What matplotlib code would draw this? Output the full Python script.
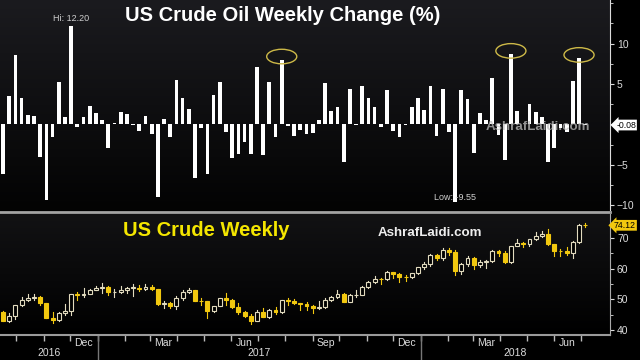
import datetime as dt
import numpy as np
import matplotlib
matplotlib.use("Agg")
import matplotlib.pyplot as plt
import matplotlib.dates as mdates
from matplotlib.patches import Ellipse, Rectangle
from matplotlib.lines import Line2D
from matplotlib.colors import LinearSegmentedColormap

# weekly WTI data, weeks ending Friday 16 Sep 2016 .. 6 Jul 2018
first_week = dt.date(2016, 9, 16)
weeks = [first_week + dt.timedelta(weeks=i) for i in range(95)]

pct_change = [-6.1, 3.5, 8.6, 3.3, 1.2, 1.0, -4.0, -9.4, -1.5, 5.3,
              0.9, 12.2, -0.3, 0.9, 2.3, 1.4, 0.5, -2.9, 0.15, 1.5,
              1.3, -0.1, -0.8, 1.1, -1.2, -9.0, 0.7, -1.6, 5.5, 3.3,
              1.9, -6.6, -0.5, -6.1, 3.6, 5.3, -1.0, -4.1, -3.7, -2.2,
              -3.7, 7.1, -3.8, 5.3, -1.6, 8.0, -0.2, -1.4, -0.7, -1.2,
              -1.1, 0.5, 5.1, 1.6, 2.1, -4.6, 4.4, -0.05, 4.8, 3.3,
              2.1, -0.3, 4.3, -0.8, -1.6, -0.05, 2.1, 3.3, 1.8, 4.8,
              -1.4, 4.4, -0.9, -9.55, 4.2, 3.1, -3.5, 1.4, 0.5, 5.7,
              -1.3, -4.4, 8.7, 1.6, 0.1, 2.5, 1.5, 0.9, -4.7, -2.9,
              -0.4, -0.9, 5.4, 8.2, -0.08]

prev_close = 45.88
closes = [43.03, 44.48, 48.24, 49.81, 50.35, 50.85, 48.70, 44.07, 43.41, 45.69,
          46.06, 51.68, 51.50, 51.90, 53.02, 53.72, 53.99, 52.37, 52.42, 53.17,
          53.83, 53.86, 53.40, 53.99, 53.33, 48.49, 48.78, 47.97, 50.60, 52.24,
          53.18, 49.62, 49.33, 46.22, 47.84, 50.33, 49.80, 47.66, 45.83, 44.74,
          43.01, 46.04, 44.23, 46.54, 45.77, 49.71, 49.58, 48.82, 48.51, 47.87,
          47.29, 47.48, 49.89, 50.66, 51.67, 49.29, 51.45, 51.47, 53.90, 55.64,
          56.74, 56.55, 58.95, 58.36, 57.36, 57.30, 58.47, 60.42, 61.44, 64.30,
          63.37, 66.14, 65.45, 59.20, 61.68, 63.55, 61.25, 62.04, 62.34, 65.88,
          64.94, 62.06, 67.39, 68.38, 68.10, 69.72, 70.70, 71.28, 67.88, 65.81,
          65.74, 65.06, 68.58, 74.15, 74.12]
highs = [46.2, 45.6, 48.3, 50.7, 51.6, 51.9, 51.1, 48.9, 45.9, 46.0,
         48.4, 51.9, 52.4, 53.6, 53.3, 54.4, 55.2, 54.2, 53.4, 54.3,
         54.1, 54.9, 54.6, 54.9, 54.6, 53.5, 49.4, 49.2, 51.0, 52.9,
         53.8, 53.2, 50.3, 49.6, 48.0, 50.5, 52.0, 50.0, 48.8, 46.2,
         45.1, 46.5, 47.3, 46.8, 47.5, 49.8, 50.4, 50.2, 48.9, 49.0,
         48.1, 49.4, 50.3, 51.0, 52.9, 52.2, 51.6, 52.9, 54.2, 55.9,
         57.7, 56.9, 59.1, 59.0, 58.5, 58.0, 58.6, 60.5, 62.2, 64.8,
         64.9, 66.7, 66.7, 66.0, 62.0, 64.2, 63.7, 62.9, 62.8, 66.2,
         66.1, 65.6, 67.5, 69.6, 68.8, 69.8, 71.9, 72.3, 72.8, 67.9,
         66.4, 67.1, 69.0, 74.5, 75.0]
lows = [42.8, 42.5, 43.5, 47.9, 49.5, 49.7, 48.3, 44.0, 42.2, 43.0,
        45.0, 44.8, 49.9, 50.7, 51.7, 52.9, 52.1, 51.5, 50.9, 52.2,
        52.2, 51.2, 52.8, 53.0, 52.9, 48.3, 47.1, 47.1, 47.0, 49.9,
        52.0, 49.5, 48.2, 43.8, 45.9, 47.8, 48.2, 47.3, 45.2, 44.2,
        42.1, 42.8, 44.2, 44.0, 45.4, 45.6, 48.3, 48.4, 46.5, 46.6,
        45.6, 46.8, 47.1, 49.5, 50.3, 49.1, 49.1, 50.7, 51.3, 53.7,
        55.2, 54.9, 56.4, 57.1, 55.8, 56.1, 57.0, 58.2, 59.9, 61.0,
        62.8, 62.7, 64.6, 58.1, 58.2, 60.8, 60.0, 60.5, 60.1, 62.1,
        64.2, 61.8, 61.9, 67.3, 67.0, 67.3, 69.2, 70.3, 67.8, 64.2,
        64.2, 64.3, 63.6, 68.4, 73.6]

hi_week, lo_week = 11, 73
circled = [45, 82, 93]
month_labels = [(2016, 12, "Dec"), (2017, 3, "Mar"), (2017, 6, "Jun"), (2017, 9, "Sep"),
                (2017, 12, "Dec"), (2018, 3, "Mar"), (2018, 6, "Jun")]

x = mdates.date2num(weeks)
opens = [prev_close] + closes[:-1]
xmin = mdates.date2num(dt.date(2016, 9, 12)) + 0.6
xmax = mdates.date2num(dt.date(2018, 8, 3))

yellow = "#f2c80f"
cream = "#e2dbbf"
txt = "#dcdcdc"

plt.rcParams["font.family"] = "Liberation Sans"
fig = plt.figure(figsize=(6.4, 3.6), dpi=100, facecolor="black")

# background gradients
W = 610 / 640
bg1 = fig.add_axes([0, 1 - 210 / 360, W, 210 / 360], zorder=0)
bg1.imshow(np.linspace(1, 0, 256).reshape(-1, 1), aspect="auto",
           cmap=LinearSegmentedColormap.from_list("g1", ["#030303", "#1b1b1f"]))
bg1.axis("off")
bg2 = fig.add_axes([0, 25 / 360, W, 121 / 360], zorder=0)
bg2.imshow(np.linspace(1, 0, 256).reshape(-1, 1), aspect="auto",
           cmap=LinearSegmentedColormap.from_list("g2", ["#000000", "#121214"]))
bg2.axis("off")

ax1 = fig.add_axes([0, 1 - 210 / 360, W, 210 / 360], zorder=1)
ax2 = fig.add_axes([0, 25 / 360, W, 121 / 360], zorder=1)
for ax in (ax1, ax2):
    ax.set_facecolor("none")
    for s in ("top", "left"):
        ax.spines[s].set_visible(False)
    ax.yaxis.tick_right()
    ax.set_xlim(xmin, xmax)

# --- top: weekly % change
ax1.bar(x, pct_change, width=4.2, color="white", zorder=3)
ax1.set_ylim(-10.6, 15.4)
ax1.spines["bottom"].set_visible(False)
ax1.spines["right"].set_color(txt)
ax1.tick_params(axis="x", bottom=False, labelbottom=False)
ax1.set_yticks([-10, -5, 5, 10])
ax1.set_yticks(np.arange(-10, 15.1, 2.5), minor=True)
ax1.tick_params(axis="y", which="both", colors=txt, labelsize=7.5, length=3, pad=2)
ax1.tick_params(axis="y", which="minor", length=2)

for i in circled:
    ax1.add_patch(Ellipse((x[i], pct_change[i] + 0.4), 34, 1.8, fill=False,
                          ec="#cdb948", lw=1, zorder=4))
ax1.text(x[hi_week], pct_change[hi_week] + 0.35, "Hi: 12.20", ha="center", va="bottom",
         color="#cfcfcf", fontsize=6.5, zorder=5)
ax1.text(x[lo_week], -9.1, "Low: -9.55", ha="center", va="center",
         color="#cfcfcf", fontsize=6.5, zorder=5)
# last-value tags on the right axis
tag_x = 636 / 610
ax1.text(tag_x, pct_change[-1], "-0.08", transform=ax1.get_yaxis_transform(),
         ha="right", va="center", fontsize=6.3, color="black", clip_on=False,
         bbox=dict(boxstyle="larrow,pad=0.1", fc="white", ec="none"))

# --- bottom: weekly candles
for d, o, h, l, c in zip(x, opens, highs, lows, closes):
    up = c >= o
    col = cream if up else yellow
    ax2.plot([d, d], [l, h], color=col, lw=0.8, zorder=2)
    ax2.add_patch(Rectangle((d - 2.2, min(o, c)), 4.4, max(abs(c - o), 0.12),
                            fc="black" if up else yellow, ec=col, lw=0.8, zorder=3))
ax2.set_ylim(38.4, 77.8)
ax2.spines["right"].set_color("#aaaaaa")
ax2.spines["bottom"].set_color("#9a9a9a")
ax2.spines["bottom"].set_linewidth(1.5)
ax2.set_yticks([40, 50, 60, 70])
ax2.set_yticks(np.arange(40, 76, 5), minor=True)
ax2.tick_params(axis="y", which="both", colors=txt, labelsize=7.5, length=3, pad=2)
ax2.tick_params(axis="y", which="minor", length=2)
ax2.text(tag_x, closes[-1], "74.12", transform=ax2.get_yaxis_transform(),
         ha="right", va="center", fontsize=6.3, color="black", clip_on=False,
         bbox=dict(boxstyle="larrow,pad=0.1", fc=yellow, ec="none"))

month_starts = [mdates.date2num(dt.date(2016 + (9 + k) // 12, (9 + k) % 12 + 1, 1)) for k in range(22)]
ax2.set_xticks([])
ax2.set_xticks(month_starts, minor=True)
ax2.tick_params(axis="x", which="minor", length=4, color="#bbbbbb", width=1)

xt = ax2.get_xaxis_transform()
for yy, mm, name in month_labels:
    ax2.text(mdates.date2num(dt.date(yy, mm, 16)), -0.07, name, transform=xt,
             ha="center", va="center", color=txt, fontsize=7.5)
jan17 = mdates.date2num(dt.date(2017, 1, 1))
jan18 = mdates.date2num(dt.date(2018, 1, 1))
for xx in (jan17, jan18):
    ax2.plot([xx, xx], [0, -0.21], transform=xt, clip_on=False, color="#777777", lw=1)
for lab, xx in (("2016", (xmin + jan17) / 2), ("2017", (jan17 + jan18) / 2), ("2018", (jan18 + xmax) / 2)):
    ax2.text(xx, -0.15, lab, transform=xt, ha="center", va="center", color=txt, fontsize=7.5)

# separator between panels
fig.add_artist(Line2D([0, W], [1 - 212 / 360] * 2, color="#a3a3a3", lw=2))

# titles / watermarks
fig.text(0.442, 0.958, "US Crude Oil Weekly Change (%)", ha="center", va="center",
         color="white", fontsize=14.5, fontweight="bold")
fig.text(0.322, 0.361, "US Crude Weekly", ha="center", va="center",
         color="#f4e600", fontsize=14.5, fontweight="bold")
fig.text(0.841, 0.647, "AshrafLaidi.com", ha="center", va="center",
         color="#bdbdbd", alpha=0.75, fontsize=9.6, fontweight="bold", zorder=6)
fig.text(0.672, 0.353, "AshrafLaidi.com", ha="center", va="center",
         color="#eeeeee", fontsize=9.6, fontweight="bold")

fig.savefig("out.png", dpi=100, facecolor="black")
